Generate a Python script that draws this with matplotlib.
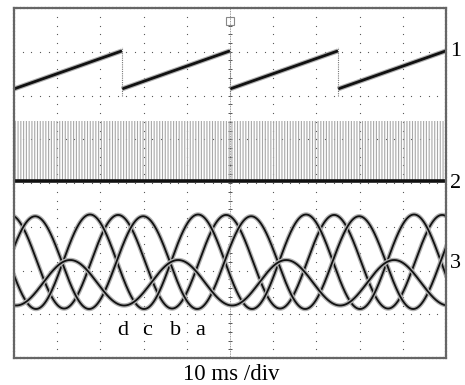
import numpy as np
import matplotlib
matplotlib.use('Agg')
import matplotlib.pyplot as plt

plt.rcParams['font.family'] = ['Liberation Serif', 'DejaVu Serif']
plt.rcParams['hatch.linewidth'] = 0.8
plt.rcParams['hatch.color'] = '#a8a8a8'

# screen: 10 ms/div, 10 x 8 divisions
n_xdiv = 10
n_ydiv = 8
ms_per_div = 10

# channel 1: sawtooth (ramp starts, ramp ends, levels in div)
saw_start_ms = [0, 25, 50, 75]
saw_end_ms = [25, 50, 75, 100]
saw_low = 6.15
saw_high = 7.02

# channel 2: baseline and top of the PWM band
ch2_level = 4.05
ch2_pwm_top = 5.42

# channel 3: four currents
wave_names = ['a', 'b', 'c', 'd']
wave_period_ms = 25.0
wave_peak_ms = [24.1, 17.6, 4.9, 13.0]
wave_center = [2.2, 2.2, 2.18, 1.72]
wave_amp = [1.07, 1.08, 1.06, 0.52]

label_names = ['d', 'c', 'b', 'a']
label_ms = [25.2, 30.8, 37.5, 43.1]
label_div = 0.62

channel_marks = ['1', '2', '3']
channel_mark_div = [7.0, 4.0, 2.15]

fig = plt.figure(figsize=(4.65, 3.85), dpi=100)
ax = fig.add_axes([14 / 465, 1 - 358 / 385, 432 / 465, 350 / 385])
xmax = n_xdiv * ms_per_div
ax.set_xlim(0, xmax)
ax.set_ylim(0, n_ydiv)
ax.set_xticks([])
ax.set_yticks([])
for s in ax.spines.values():
    s.set_linestyle((0, (1.0, 0.6)))
    s.set_linewidth(1.6)
    s.set_color('#666666')

# dotted graticule
dot_x = np.arange(0, xmax + 0.01, ms_per_div / 5)
dot_y = np.arange(0, n_ydiv + 0.01, 0.2)
for k in range(1, n_xdiv):
    ax.scatter(np.full(dot_y.size, k * ms_per_div), dot_y, s=0.8, c='#555555', lw=0)
for k in range(1, n_ydiv):
    ax.scatter(dot_x, np.full(dot_x.size, k), s=0.8, c='#555555', lw=0)
# centre axis ticks
cx = xmax / 2
ax.plot([cx, cx], [0, n_ydiv], color='#777777', lw=0.6, ls=(0, (1, 1)))
ax.scatter(np.full(dot_y.size, cx), dot_y, s=6, marker='_', c='#555555', lw=0.7)
ax.plot([cx], [7.7], marker='s', ms=6, mfc='none', mec='#888888', mew=0.8, ls='none')

# channel 2: PWM band and baseline
ax.fill_between([0, xmax], ch2_level, ch2_pwm_top, facecolor='none',
                edgecolor='#a8a8a8', hatch='||||||', lw=0)
ax.plot([0, xmax], [ch2_level, ch2_level], color='#111111', lw=2.6,
        solid_capstyle='butt')

# channel 1: sawtooth
for t0, t1 in zip(saw_start_ms, saw_end_ms):
    ax.plot([t0, t1], [saw_low, saw_high], color='#b0b0b0', lw=3.6,
            solid_capstyle='butt')
    ax.plot([t0, t1], [saw_low, saw_high], color='#111111', lw=2.0,
            solid_capstyle='butt')
for t1 in saw_end_ms[:-1]:
    ax.plot([t1, t1], [saw_low - 0.15, saw_high + 0.1], color='#777777',
            lw=0.8, ls=(0, (1, 1)))

# channel 3: currents
t_ms = np.linspace(0, xmax, 1500)
for name, pk, c0, amp in zip(wave_names, wave_peak_ms, wave_center, wave_amp):
    y = c0 + amp * np.cos(2 * np.pi * (t_ms - pk) / wave_period_ms)
    ax.plot(t_ms, y, color='#b0b0b0', lw=3.2)
    ax.plot(t_ms, y, color='#111111', lw=1.3)

for name, x in zip(label_names, label_ms):
    ax.text(x, label_div, name, fontsize=16, ha='center', va='center')

for name, yv in zip(channel_marks, channel_mark_div):
    ax.text(xmax + 2.3, yv, name, fontsize=16, ha='center', va='center',
            clip_on=False)

fig.text(231 / 465, 1 - 374 / 385, '10 ms /div', fontsize=16.5,
         ha='center', va='center')

fig.savefig('out.png', dpi=100)
